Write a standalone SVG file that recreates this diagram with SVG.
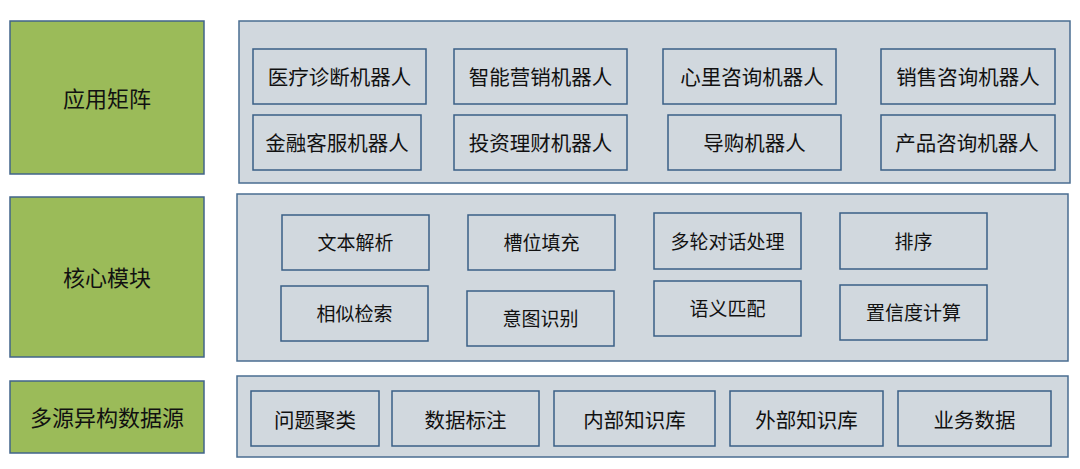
<svg xmlns="http://www.w3.org/2000/svg" width="1080" height="469" viewBox="0 0 1080 469">
<style>
.bg{fill:#ffffff}
.layer{fill:#9BBB59;stroke:#41648A;stroke-width:1.5}
.panel{fill:#D1D8DE;stroke:#4A6D91;stroke-width:1.5}
.box{fill:#D1D8DE;stroke:#3A5F86;stroke-width:1.5}
text{font-family:"Noto Sans CJK SC","Noto Sans",sans-serif;fill:#111111;text-anchor:middle;dominant-baseline:central}
.t1{font-size:22px}
.t2{font-size:20.5px}
.t3{font-size:19px}
</style>
<rect class="bg" x="0" y="0" width="1080" height="469"/>
<g id="layer-app">
<rect class="layer" x="10" y="21" width="194" height="153"/>
<text class="t1" x="107" y="97">应用矩阵</text>
</g>
<g id="layer-core">
<rect class="layer" x="10" y="197" width="194" height="160"/>
<text class="t1" x="107" y="276">核心模块</text>
</g>
<g id="layer-data">
<rect class="layer" x="10" y="381" width="194" height="72"/>
<text class="t1" x="107" y="416">多源异构数据源</text>
</g>
<g id="panel-app"><rect class="panel" x="239" y="21" width="831" height="162"/></g>
<g id="panel-core"><rect class="panel" x="237" y="194" width="831" height="167"/></g>
<g id="panel-data"><rect class="panel" x="237" y="376" width="831" height="81"/></g>
<g id="n-yiliao"><rect class="box" x="253" y="49" width="173" height="55"/><text class="t2" x="339.5" y="75.5">医疗诊断机器人</text></g>
<g id="n-yingxiao"><rect class="box" x="454" y="49" width="173" height="55"/><text class="t2" x="540.5" y="75.5">智能营销机器人</text></g>
<g id="n-xinli"><rect class="box" x="663" y="49" width="173" height="55"/><text class="t2" x="752" y="75.5">心里咨询机器人</text></g>
<g id="n-xiaoshou"><rect class="box" x="881" y="49" width="174" height="55"/><text class="t2" x="968" y="75.5">销售咨询机器人</text></g>
<g id="n-jinrong"><rect class="box" x="253" y="115" width="168" height="55"/><text class="t2" x="337" y="141.5">金融客服机器人</text></g>
<g id="n-touzi"><rect class="box" x="454" y="115" width="173" height="55"/><text class="t2" x="540.5" y="141.5">投资理财机器人</text></g>
<g id="n-daogou"><rect class="box" x="668" y="115" width="173" height="55"/><text class="t2" x="754.5" y="141.5">导购机器人</text></g>
<g id="n-chanpin"><rect class="box" x="881" y="115" width="174" height="55"/><text class="t2" x="967" y="141.5">产品咨询机器人</text></g>
<g id="n-wenben"><rect class="box" x="282" y="215" width="147" height="55"/><text class="t3" x="355.5" y="241.5">文本解析</text></g>
<g id="n-caowei"><rect class="box" x="468" y="215" width="147" height="55"/><text class="t3" x="541.5" y="241.5">槽位填充</text></g>
<g id="n-duolun"><rect class="box" x="654" y="213" width="147" height="56"/><text class="t3" x="727.5" y="240">多轮对话处理</text></g>
<g id="n-paixu"><rect class="box" x="840" y="213" width="147" height="56"/><text class="t3" x="913.5" y="240">排序</text></g>
<g id="n-xiangsi"><rect class="box" x="281" y="286" width="147" height="55"/><text class="t3" x="354.5" y="312.5">相似检索</text></g>
<g id="n-yitu"><rect class="box" x="467" y="291" width="147" height="55"/><text class="t3" x="540.5" y="317.5">意图识别</text></g>
<g id="n-yuyi"><rect class="box" x="654" y="281" width="147" height="55"/><text class="t3" x="727.5" y="307.5">语义匹配</text></g>
<g id="n-zhixin"><rect class="box" x="840" y="285" width="147" height="55"/><text class="t3" x="913.5" y="311.5">置信度计算</text></g>
<g id="n-wenti"><rect class="box" x="251" y="391" width="128" height="55"/><text class="t2" x="315" y="418.5">问题聚类</text></g>
<g id="n-biaozhu"><rect class="box" x="392" y="391" width="147" height="55"/><text class="t2" x="465.5" y="418.5">数据标注</text></g>
<g id="n-neibu"><rect class="box" x="554" y="391" width="161" height="55"/><text class="t2" x="634.5" y="418.5">内部知识库</text></g>
<g id="n-waibu"><rect class="box" x="730" y="391" width="153" height="55"/><text class="t2" x="806.5" y="418.5">外部知识库</text></g>
<g id="n-yewu"><rect class="box" x="898" y="391" width="153" height="55"/><text class="t2" x="974.5" y="418.5">业务数据</text></g>
<g id="connectors"></g>
</svg>
